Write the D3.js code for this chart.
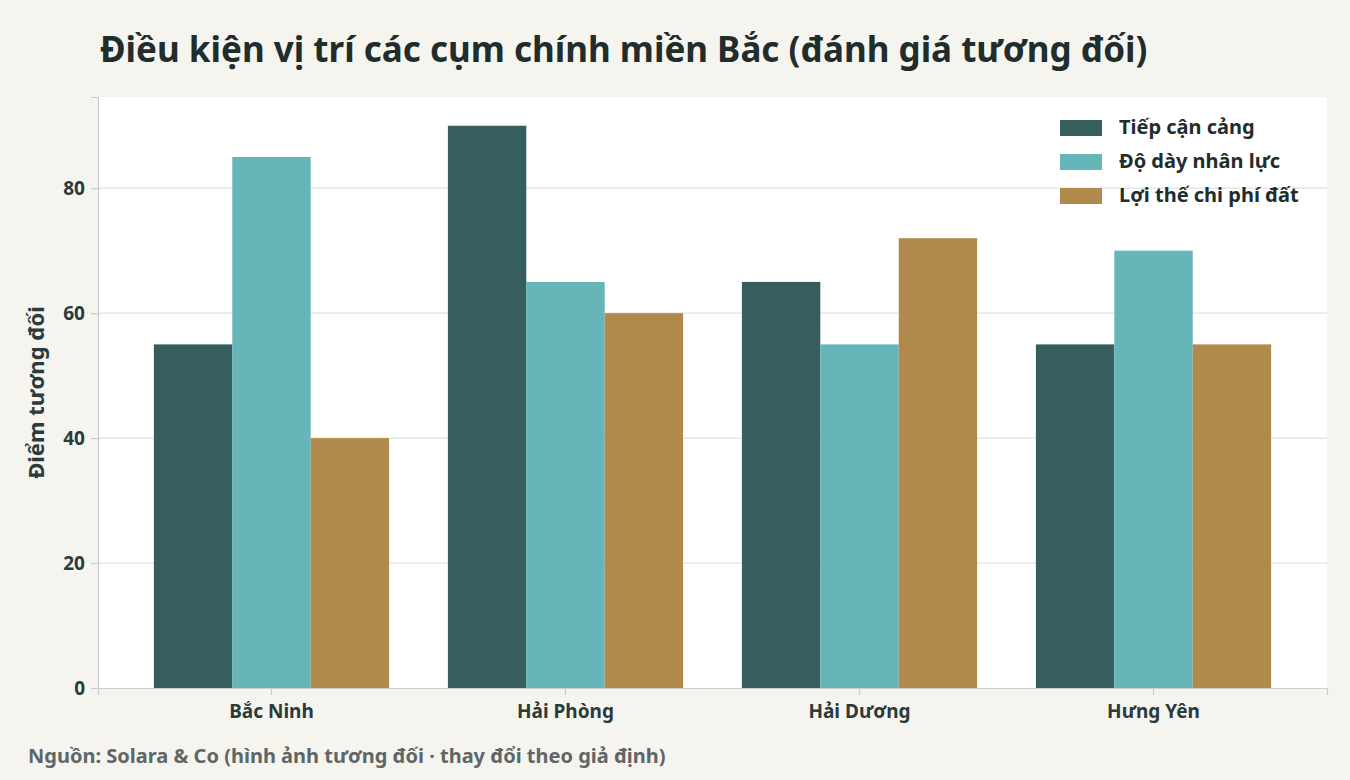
<!DOCTYPE html>
<html><head><meta charset="utf-8">
<script src="https://cdn.jsdelivr.net/npm/d3@7"></script>
<style>body{margin:0;background:#f5f4ef;font-family:"Noto Sans",sans-serif;}</style>
</head><body><svg id="chart" width="1350" height="780"></svg>
<script>
const categories = ["Bắc Ninh", "Hải Phòng", "Hải Dương", "Hưng Yên"];
const seriesNames = ["Tiếp cận cảng", "Độ dày nhân lực", "Lợi thế chi phí đất"];
const portAccess = [55, 90, 65, 55];
const laborDensity = [85, 65, 55, 70];
const landCost = [40, 60, 72, 55];
const yTicks = [0, 20, 40, 60, 80];
const colors = ["#375e5f", "#66b5b9", "#b0894d"];
const series = [portAccess, laborDensity, landCost];

const svg = d3.select("#chart");
const m = {left: 98, right: 1327, top: 97, bottom: 688};

svg.append("rect").attr("width", 1350).attr("height", 780).attr("fill", "#f5f4ef");
svg.append("rect").attr("x", m.left).attr("y", m.top)
    .attr("width", m.right - m.left).attr("height", m.bottom - m.top).attr("fill", "#fff");

const x = d3.scaleBand().domain(categories).range([m.left, m.right]).paddingInner(0.2).paddingOuter(0.19);
const xs = d3.scaleBand().domain(d3.range(3)).range([0, x.bandwidth()]);
const y = d3.scaleLinear().domain([0, 94.6]).range([m.bottom, m.top]);

// grid
svg.append("g").selectAll("line").data(yTicks.slice(1)).join("line")
    .attr("x1", m.left).attr("x2", m.right)
    .attr("y1", d => y(d)).attr("y2", d => y(d))
    .attr("stroke", "#dfe3e3").attr("stroke-width", 1.2);

// bars
categories.forEach((c, i) => {
    svg.append("g").selectAll("rect").data(series.map(s => s[i])).join("rect")
        .attr("x", (d, j) => x(c) + xs(j)).attr("width", xs.bandwidth())
        .attr("y", d => y(d)).attr("height", d => y(0) - y(d))
        .attr("fill", (d, j) => colors[j]);
});

const yAxis = svg.append("g").attr("transform", `translate(${m.left},0)`)
    .call(d3.axisLeft(y).tickValues(yTicks).tickSize(7).tickPadding(6));
const xAxis = svg.append("g").attr("transform", `translate(0,${m.bottom})`)
    .call(d3.axisBottom(x).tickSize(7).tickPadding(10));
[yAxis, xAxis].forEach(a => {
    a.selectAll("path,line").attr("stroke", "#c8cece").attr("stroke-width", 1.2);
    a.selectAll("text").attr("fill", "#2b3a3a").attr("font-size", 19).attr("font-weight", "bold")
        .attr("font-family", "Noto Sans");
});

svg.append("text").attr("transform", `translate(44,${(m.top + m.bottom) / 2}) rotate(-90)`)
    .attr("text-anchor", "middle").attr("font-size", 22).attr("font-weight", "bold")
    .attr("fill", "#2b3a3a").text("Điểm tương đối");

svg.append("text").attr("x", 100).attr("y", 62).attr("font-size", 35).attr("font-weight", "bold")
    .attr("fill", "#1f2d2d").text("Điều kiện vị trí các cụm chính miền Bắc (đánh giá tương đối)");

svg.append("text").attr("x", 28).attr("y", 763).attr("font-size", 20).attr("font-weight", "bold")
    .attr("fill", "#5f6666").text("Nguồn: Solara & Co (hình ảnh tương đối · thay đổi theo giả định)");

// legend
const lg = svg.append("g").selectAll("g").data(seriesNames).join("g")
    .attr("transform", (d, i) => `translate(1060,${120 + i * 34})`);
lg.append("rect").attr("width", 42).attr("height", 16).attr("fill", (d, i) => colors[i]);
lg.append("text").attr("x", 59).attr("y", 14).attr("font-size", 20).attr("font-weight", "bold")
    .attr("fill", "#1f2d2d").text(d => d);
</script></body></html>
